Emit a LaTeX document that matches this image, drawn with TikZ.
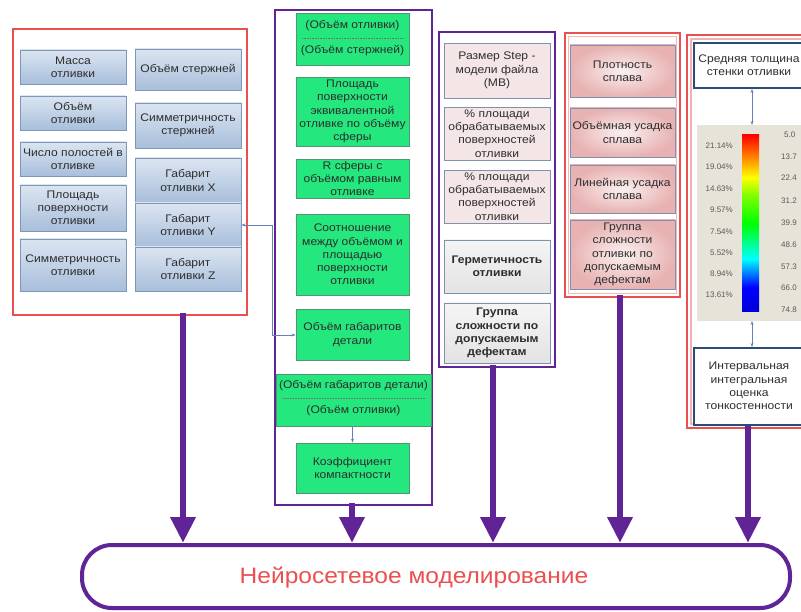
\documentclass[tikz,border=0pt]{standalone}
\usepackage{fontspec}
\setmainfont[FakeStretch=1.1]{Liberation Sans}
\newfontfamily\plainfont{Liberation Sans}
\usetikzlibrary{arrows.meta,shadows}
\definecolor{pur}{RGB}{96,36,150}
\definecolor{redf}{RGB}{233,80,79}
\definecolor{grn}{RGB}{36,232,125}
\definecolor{grnb}{RGB}{80,150,110}
\definecolor{blt}{RGB}{219,229,241}
\definecolor{blb}{RGB}{168,190,219}
\definecolor{blbd}{RGB}{128,150,184}
\definecolor{txt}{RGB}{45,45,45}
\definecolor{pinkf}{RGB}{244,230,230}
\definecolor{pinko}{RGB}{232,178,178}
\definecolor{pinki}{RGB}{250,240,240}
\definecolor{navy}{RGB}{45,75,120}
\definecolor{beige}{RGB}{230,227,216}
\definecolor{arrb}{RGB}{100,130,185}
\pgfdeclareverticalshading{rainbow}{100bp}{color(0bp)=(blue!85!black); color(25bp)=(blue!85!black); color(32bp)=(blue); color(40bp)=(cyan); color(50bp)=(green); color(58bp)=(green!50!yellow); color(63bp)=(yellow); color(69bp)=(orange); color(75bp)=(red); color(100bp)=(red)}
\tikzset{
  box/.style={inner sep=0pt, align=center, text=txt, font=\fontsize{11}{13.2}\selectfont},
  bluebox/.style={box, draw=blbd, line width=0.8pt, top color=blt, bottom color=blb},
  greenbox/.style={box, draw=grnb, line width=0.8pt, fill=grn},
  pbox/.style={box, draw=blbd!80!gray, line width=0.8pt, fill=pinkf},
  gbox/.style={box, draw=blbd!80!gray, line width=0.8pt, top color=gray!8, bottom color=gray!22, font=\bfseries\fontsize{11}{13.2}\selectfont},
  rbox/.style={box, draw=blbd!80!gray, line width=0.8pt, inner color=pinki, outer color=pinko},
  nbox/.style={box, draw=navy, line width=2pt, fill=white},
  redframe/.style={draw=redf, line width=2.4pt},
  purframe/.style={draw=pur, line width=2.6pt},
  bigarrow/.style={draw=pur, line width=6.5pt, -{Triangle[width=24pt,length=26pt]}},
  thinarr/.style={draw=arrb, line width=0.8pt, {Stealth[length=4pt,width=3pt]}-{Stealth[length=4pt,width=3pt]}},
  cbl/.style={font=\plainfont\fontsize{8}{9}\selectfont, text=black!65, inner sep=0pt},
}
\newcommand\bx[7]{\node[#1, minimum width={#5pt-#3pt}, minimum height={#6pt-#4pt}] (#2) at ({(#3+#5)/2},{(#4+#6)/2}) {#7};}
\begin{document}
\begin{tikzpicture}[x=1pt,y=-1pt]
\clip (0,0) rectangle (801,612);
\fill[white] (0,0) rectangle (801,612);

% ---------- Frame 1 ----------
\draw[redframe] (13,29) rectangle (247,315);
\bx{bluebox}{masa}{20}{50}{126}{84}{Масса\\отливки}
\bx{bluebox}{vol}{20}{96}{126}{130}{Объём\\отливки}
\bx{bluebox}{pol}{20}{142}{126}{176}{Число полостей в\\отливке}
\bx{bluebox}{area}{20}{185}{126}{231}{Площадь\\поверхности\\отливки}
\bx{bluebox}{sym}{20}{239}{126}{291}{Симметричность\\отливки}
\bx{bluebox}{vst}{135}{49}{241}{90}{Объём стержней}
\bx{bluebox}{sst}{135}{103}{241}{148}{Симметричность\\стержней}
\bx{bluebox}{gx}{135}{158}{241}{203}{Габарит\\отливки X}
\bx{bluebox}{gy}{135}{203}{241}{247}{Габарит\\отливки Y}
\bx{bluebox}{gz}{135}{247}{241}{291}{Габарит\\отливки Z}

% ---------- Frame 2 ----------
\draw[purframe] (275,10) rectangle (432,505);
\bx{greenbox}{g1}{296}{13}{409}{65}{}
\node[box] at (352.5,26) {(Объём отливки)};
\draw[black!55, line width=0.5pt, dash pattern=on 0.8pt off 0.8pt] (302,38.5) -- (403,38.5);
\node[box] at (352.5,51) {(Объём стержней)};
\bx{greenbox}{g2}{296}{77}{409}{146}{Площадь\\поверхности\\эквивалентной\\отливке по объёму\\сферы}
\bx{greenbox}{g3}{296}{159}{409}{198}{R сферы с\\объёмом равным\\отливке}
\bx{greenbox}{g4}{296}{214}{409}{295}{Соотношение\\между объёмом и\\площадью\\поверхности\\отливки}
\bx{greenbox}{g5}{296}{309}{409}{360}{Объём габаритов\\детали}
\bx{greenbox}{g6}{276}{374}{431}{426}{}
\node[box] at (353.5,386) {(Объём габаритов детали)};
\draw[black!55, line width=0.5pt, dash pattern=on 0.8pt off 0.8pt] (282,398.5) -- (425,398.5);
\node[box] at (353.5,411) {(Объём отливки)};
\bx{greenbox}{g7}{296}{443}{409}{493}{Коэффициент\\компактности}
\draw[arrb, line width=0.8pt, -{Stealth[length=4pt,width=3pt]}] (g6.south -| g7.north) -- (g7.north);

% connector Габарит Y -> Объём габаритов
\coordinate (c1) at (272,225);
\coordinate (c2) at (272,335);
\draw[arrb, line width=0.8pt, {Stealth[length=4pt,width=3pt]}-{Stealth[length=4pt,width=3pt]}] (gy.east) -- (c1) -- (c2) -- (c2 -| g5.west);

% ---------- Frame 3 ----------
\draw[purframe] (439,32) rectangle (555,367);
\bx{pbox}{p1}{444}{43}{550}{98}{Размер Step -\\модели файла\\(MB)}
\bx{pbox}{p2}{444}{107}{550}{160}{\% площади\\обрабатываемых\\поверхностей\\отливки}
\bx{pbox}{p3}{444}{170}{550}{223}{\% площади\\обрабатываемых\\поверхностей\\отливки}
\bx{gbox}{p4}{444}{240}{550}{293}{Герметичность\\отливки}
\bx{gbox}{p5}{444}{303}{550}{363}{Группа\\сложности по\\допускаемым\\дефектам}

% ---------- Frame 4 ----------
\draw[redframe] (565,33) rectangle (680,297);
\draw[redf!40, line width=1pt] (568.5,36.5) rectangle (676.5,293.5);
\bx{rbox}{r1}{570}{45}{675}{97}{Плотность\\сплава}
\bx{rbox}{r2}{570}{108}{675}{157}{Объёмная усадка\\сплава}
\bx{rbox}{r3}{570}{165}{675}{213}{Линейная усадка\\сплава}
\bx{rbox}{r4}{570}{220}{675}{289}{Группа\\сложности\\отливки по\\допускаемым\\дефектам}

% ---------- Frame 5 ----------
\draw[redframe] (687,35) rectangle (820,428);
\draw[redf!45, line width=1.2pt] (691,39) rectangle (816,424);
\bx{nbox}{t1}{694}{43}{812}{88}{}
\node[box] at (749,65) {Средняя толщина\\стенки отливки};
\bx{nbox}{t2}{694}{348}{812}{425}{}
\node[box] at (749,386) {Интервальная\\интегральная\\оценка\\тонкостенности};
\fill[beige] (697,125) rectangle (810,321);
\coordinate (pt) at (752,125);
\coordinate (pb) at (752,321);
\shade[shading=rainbow] (742,135) rectangle (759,312);
\node[cbl, anchor=east] at (733,146) {21.14\%};
\node[cbl, anchor=east] at (733,167) {19.04\%};
\node[cbl, anchor=east] at (733,189) {14.63\%};
\node[cbl, anchor=east] at (733,210) {9.57\%};
\node[cbl, anchor=east] at (733,232) {7.54\%};
\node[cbl, anchor=east] at (733,253) {5.52\%};
\node[cbl, anchor=east] at (733,274) {8.94\%};
\node[cbl, anchor=east] at (733,295) {13.61\%};
\node[cbl, anchor=west] at (784,135) {5.0};
\node[cbl, anchor=west] at (781,157) {13.7};
\node[cbl, anchor=west] at (781,178) {22.4};
\node[cbl, anchor=west] at (781,201) {31.2};
\node[cbl, anchor=west] at (781,223) {39.9};
\node[cbl, anchor=west] at (781,245) {48.6};
\node[cbl, anchor=west] at (781,267) {57.3};
\node[cbl, anchor=west] at (781,288) {66.0};
\node[cbl, anchor=west] at (781,310) {74.8};
\draw[thinarr] (t1.south -| pt) -- (pt);
\draw[thinarr] (pb) -- (t2.north -| pb);

% ---------- Bottom ----------
\node[draw=pur, line width=4pt, rounded corners=30pt, minimum width=708pt, minimum height=63pt, inner sep=0pt, fill=white, drop shadow={shadow xshift=1pt, shadow yshift=-2pt, opacity=0.3}] (nn) at (436,576.5) {};
\node[text=redf, font=\fontsize{22.3}{25}\selectfont, inner sep=0pt] (nnt) at (414,578) {Нейросетевое моделирование};

\coordinate (a1) at (183,313);
\coordinate (a2) at (352,503);
\coordinate (a3) at (493,365);
\coordinate (a4) at (620,295);
\coordinate (a5) at (748,426);
\draw[bigarrow] (a1) -- (a1 |- nn.north);
\draw[bigarrow] (a2) -- (a2 |- nn.north);
\draw[bigarrow] (a3) -- (a3 |- nn.north);
\draw[bigarrow] (a4) -- (a4 |- nn.north);
\draw[bigarrow] (a5) -- (a5 |- nn.north);
\end{tikzpicture}
\end{document}
